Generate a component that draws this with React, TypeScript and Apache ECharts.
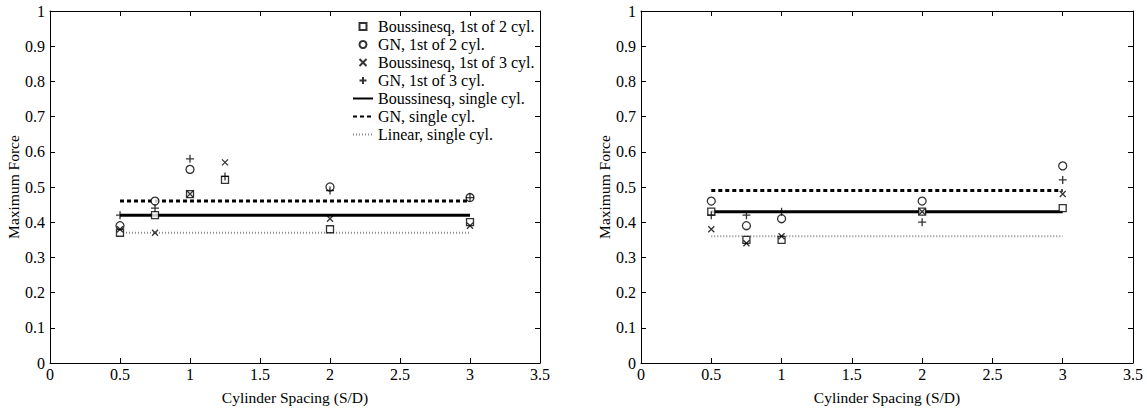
import React, { useEffect, useRef } from "react";
import * as echarts from "echarts";

// Cylinder spacing (S/D) at which the force was computed
const spacingLeft = [0.5, 0.75, 1, 1.25, 2, 3];
const spacingRight = [0.5, 0.75, 1, 2, 3];

// Left panel: maximum force on the first cylinder
const leftBous2 = [0.37, 0.42, 0.48, 0.52, 0.38, 0.4];
const leftGN2 = [0.39, 0.46, 0.55, null, 0.5, 0.47];
const leftBous3 = [0.38, 0.37, 0.48, 0.57, 0.41, 0.39];
const leftGN3 = [0.42, 0.44, 0.58, 0.53, 0.49, 0.47];

// Right panel
const rightBous2 = [0.43, 0.35, 0.35, 0.43, 0.44];
const rightGN2 = [0.46, 0.39, 0.41, 0.46, 0.56];
const rightBous3 = [0.38, 0.34, 0.36, 0.43, 0.48];
const rightGN3 = [0.42, 0.42, 0.43, 0.4, 0.52];

// Single-cylinder reference levels, drawn across the spacing range
const singleRange = [0.5, 3];
const leftSingle = { bous: 0.42, gn: 0.46, linear: 0.37 };
const rightSingle = { bous: 0.43, gn: 0.49, linear: 0.36 };

const names = {
  bous2: "Boussinesq, 1st of 2 cyl.",
  gn2: "GN, 1st of 2 cyl.",
  bous3: "Boussinesq, 1st of 3 cyl.",
  gn3: "GN, 1st of 3 cyl.",
  bousS: "Boussinesq, single cyl.",
  gnS: "GN, single cyl.",
  linS: "Linear, single cyl.",
};

const FONT = "'Liberation Serif', 'Times New Roman', serif";
const SQUARE = "path://M0,0L10,0L10,10L0,10Z";
const CROSS = "path://M0,0L10,10M10,0L0,10";
const PLUS = "path://M5,0L5,10M0,5L10,5";

const pair = (xs: number[], ys: (number | null)[]) =>
  xs.map((x, i) => [x, ys[i]]).filter((p) => p[1] !== null);

function panelSeries(
  xIdx: number,
  yIdx: number,
  xs: number[],
  b2: (number | null)[],
  g2: (number | null)[],
  b3: (number | null)[],
  g3: (number | null)[],
  single: { bous: number; gn: number; linear: number }
) {
  const flat = (v: number) => singleRange.map((x) => [x, v]);
  const line = (name: string, v: number, style: any) => ({
    name,
    type: "line",
    xAxisIndex: xIdx,
    yAxisIndex: yIdx,
    symbol: "none",
    data: flat(v),
    lineStyle: style,
    itemStyle: { color: style.color },
    z: 1,
  });
  const scatter = (name: string, ys: (number | null)[], symbol: string, size: number, fill: string) => ({
    name,
    type: "scatter",
    xAxisIndex: xIdx,
    yAxisIndex: yIdx,
    symbol,
    symbolSize: size,
    symbolKeepAspect: true,
    data: pair(xs, ys),
    itemStyle: { color: fill, borderColor: "#000", borderWidth: 1.3 },
    z: 3,
  });
  return [
    line(names.bousS, single.bous, { color: "#000", width: 3, type: "solid" }),
    line(names.gnS, single.gn, { color: "#000", width: 3, type: [4, 3] }),
    line(names.linS, single.linear, { color: "#8a8a8a", width: 2, type: [1, 2] }),
    scatter(names.bous2, b2, SQUARE, 7, "#fff"),
    scatter(names.gn2, g2, "circle", 8, "#fff"),
    scatter(names.bous3, b3, CROSS, 6, "none"),
    scatter(names.gn3, g3, PLUS, 8, "none"),
  ];
}

export default function App() {
  const ref = useRef<HTMLDivElement>(null);

  useEffect(() => {
    document.body.style.margin = "0";
    const chart = echarts.init(ref.current!, null, { renderer: "svg" });

    const axisLine = { show: true, onZero: false, lineStyle: { color: "#000", width: 1 } };
    const tick = { show: true, inside: true, length: 5, lineStyle: { color: "#000" } };
    const label = { color: "#000", fontFamily: FONT, fontSize: 16 };
    const nameStyle = { color: "#000", fontFamily: FONT, fontSize: 15.5 };

    const xAxes = [0, 1].flatMap((g) => [
      {
        gridIndex: g,
        type: "value",
        min: 0,
        max: 3.5,
        interval: 0.5,
        axisLine,
        axisTick: tick,
        splitLine: { show: false },
        axisLabel: { ...label, margin: 3 },
        name: "Cylinder Spacing (S/D)",
        nameLocation: "middle",
        nameGap: 26,
        nameTextStyle: nameStyle,
      },
      {
        gridIndex: g,
        type: "value",
        position: "top",
        min: 0,
        max: 3.5,
        interval: 0.5,
        axisLine,
        axisTick: tick,
        splitLine: { show: false },
        axisLabel: { show: false },
      },
    ]);

    const yAxes = [0, 1].flatMap((g) => [
      {
        gridIndex: g,
        type: "value",
        min: 0,
        max: 1,
        interval: 0.1,
        axisLine,
        axisTick: tick,
        splitLine: { show: false },
        axisLabel: { ...label, margin: 5 },
        name: "Maximum Force",
        nameLocation: "middle",
        nameGap: 25,
        nameTextStyle: nameStyle,
      },
      {
        gridIndex: g,
        type: "value",
        position: "right",
        min: 0,
        max: 1,
        interval: 0.1,
        axisLine,
        axisTick: tick,
        splitLine: { show: false },
        axisLabel: { show: false },
      },
    ]);

    const hideDot = { itemStyle: { opacity: 0 } };

    chart.setOption({
      animation: false,
      backgroundColor: "#fff",
      grid: [
        { left: 50, top: 11, width: 490, height: 352 },
        { left: 641, top: 11, width: 492, height: 352 },
      ],
      xAxis: xAxes,
      yAxis: yAxes,
      legend: {
        orient: "vertical",
        left: 352,
        top: 17.5,
        padding: 0,
        itemWidth: 20,
        itemHeight: 7,
        itemGap: 0,
        selectedMode: false,
        textStyle: { color: "#000", fontFamily: FONT, fontSize: 16, lineHeight: 18 },
        data: [
          names.bous2,
          names.gn2,
          names.bous3,
          names.gn3,
          { name: names.bousS, ...hideDot },
          { name: names.gnS, ...hideDot },
          { name: names.linS, ...hideDot },
        ],
      },
      series: [
        ...panelSeries(0, 0, spacingLeft, leftBous2, leftGN2, leftBous3, leftGN3, leftSingle),
        ...panelSeries(2, 2, spacingRight, rightBous2, rightGN2, rightBous3, rightGN3, rightSingle),
      ],
    });

    return () => chart.dispose();
  }, []);

  return <div ref={ref} style={{ width: 1147, height: 412 }} />;
}
